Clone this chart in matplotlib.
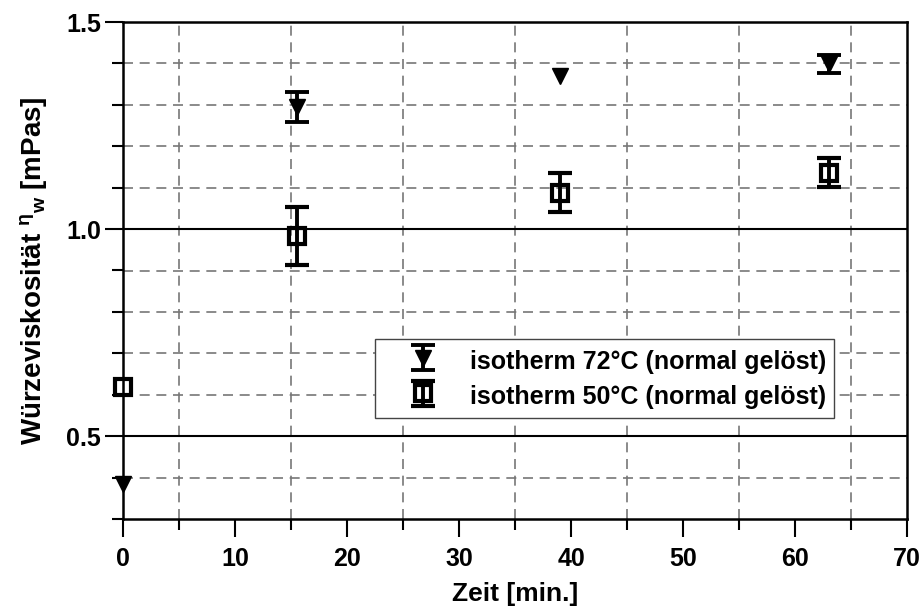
import matplotlib
matplotlib.use("Agg")
import matplotlib.pyplot as plt
from matplotlib.ticker import MultipleLocator, FixedLocator

plt.rcParams['font.family'] = ['Liberation Sans', 'DejaVu Sans']
plt.rcParams['font.weight'] = 'bold'
plt.rcParams['mathtext.fontset'] = 'custom'
plt.rcParams['mathtext.rm'] = 'Liberation Sans:bold'
plt.rcParams['mathtext.bf'] = 'Liberation Sans:bold'
plt.rcParams['mathtext.it'] = 'Liberation Sans:bold'

# Data
t72 = [0, 15.5, 39, 63]
v72 = [0.385, 1.295, 1.370, 1.398]
e72 = [0.0, 0.037, 0.0, 0.022]

t50 = [0, 15.5, 39, 63]
v50 = [0.618, 0.984, 1.088, 1.136]
e50 = [0.0, 0.070, 0.047, 0.035]

label72 = 'isotherm 72°C (normal gelöst)'
label50 = 'isotherm 50°C (normal gelöst)'

fig = plt.figure(figsize=(9.24, 6.08), dpi=100)
ax = fig.add_axes([123/924, 89/608, 784/924, 497/608])

ax.set_xlim(0, 70)
ax.set_ylim(0.3, 1.5)

# grid lines
for x in range(5, 70, 10):
    ax.axvline(x, color='#777777', lw=1.2, ls=(0, (6, 4)), zorder=1)
for y in [0.4, 0.6, 0.7, 0.8, 0.9, 1.1, 1.2, 1.3, 1.4]:
    ax.axhline(y, color='#777777', lw=1.2, ls=(0, (6, 4)), zorder=1)
for y in [0.5, 1.0]:
    ax.axhline(y, color='black', lw=1.5, zorder=1)


def draw(ts, vs, es, fmt, label, **kw):
    with_err = [(t, v, e) for t, v, e in zip(ts, vs, es) if e > 0]
    no_err = [(t, v) for t, v, e in zip(ts, vs, es) if e <= 0]
    h = ax.errorbar([p[0] for p in with_err], [p[1] for p in with_err],
                    yerr=[p[2] for p in with_err], fmt=fmt, color='black',
                    lw=2.8, capsize=8.6, capthick=2.8, label=label, zorder=4,
                    **kw)
    ax.plot([p[0] for p in no_err], [p[1] for p in no_err], fmt,
            color='black', zorder=4, clip_on=False, **kw)
    return h


draw(t72, v72, e72, 'v', label72, ms=12)
draw(t50, v50, e50, 's', label50, mfc='none', ms=11, mew=3)

ax.xaxis.set_major_locator(MultipleLocator(10))
ax.xaxis.set_minor_locator(MultipleLocator(5))
ax.yaxis.set_major_locator(FixedLocator([0.5, 1.0, 1.5]))
ax.yaxis.set_minor_locator(MultipleLocator(0.1))
ax.set_yticklabels(['0.5', '1.0', '1.5'])

ax.tick_params(which='major', direction='out', length=13, width=1.5,
               labelsize=18, pad=3)
ax.tick_params(which='minor', direction='out', length=8, width=1.5)
ax.tick_params(axis='x', which='major', pad=7)

for s in ax.spines.values():
    s.set_linewidth(1.8)
    s.set_zorder(3)

ax.set_xlabel('Zeit [min.]', fontsize=19, fontweight='bold', labelpad=8)
ax.set_ylabel(r'Würzeviskosität $^{\eta}$$_{\mathbf{w}}$ [mPas]', fontsize=20,
              fontweight='bold', labelpad=12)

leg = ax.legend(loc='upper left', bbox_to_anchor=(252/784, (519-339)/497),
                fontsize=18, frameon=True, fancybox=False, shadow=False,
                framealpha=1, edgecolor='#444444', borderpad=0.3,
                handletextpad=0.3, labelspacing=0.3, handlelength=3.2,
                handleheight=1.35, borderaxespad=0)
leg.get_frame().set_linewidth(1.0)
leg.set_zorder(5)

fig.savefig('out.png', dpi=100)
